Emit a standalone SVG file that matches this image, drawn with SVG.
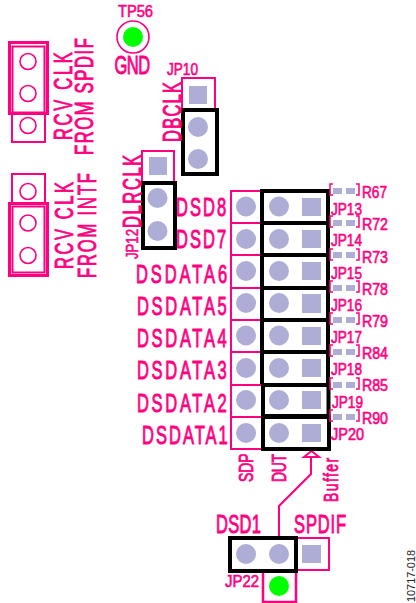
<svg xmlns="http://www.w3.org/2000/svg" width="416" height="603" viewBox="0 0 416 603">
<style>
text{font-family:"Liberation Sans",Arial,sans-serif;fill:#ff0080;stroke:#ff0080;stroke-width:.5}
.l{font-size:25px;stroke-width:.9}.m{font-size:20px;stroke-width:.8}.s{font-size:16px;stroke-width:.6}
.b{fill:#fff;stroke:#ff0080;stroke-width:2}
.t{fill:none;stroke:#ff0080;stroke-width:2}
.j{fill:none;stroke:#000;stroke-width:4}
.o{fill:none;stroke:#ff0080;stroke-width:1.6}
.p{fill:#adadd6}
.g{fill:#0f0}
.r{fill:none;stroke:#ff0080;stroke-width:1.5}
</style>
<g id="connectors">
<path class="t" d="M279 537V506L311 474V456"/>
<path class="t" d="M311.500 451L304 457H319Z"/>
</g>
<g id="tp56"><circle cx="133" cy="37" r="16" class="o"/><circle cx="133" cy="37" r="10" class="g"/>
<text class="s" x="118" y="17" textLength="35" lengthAdjust="spacingAndGlyphs">TP56</text>
<text class="l" transform="translate(114.500 73.500) scale(.66 1)" textLength="54" lengthAdjust="spacing">GND</text></g>
<g id="rcv-spdif">
<rect class="b" x="12" y="114" width="33" height="28"/>
<rect x="9.500" y="42.500" width="38" height="71" fill="none" stroke="#ff0080" stroke-width="3"/>
<rect class="t" x="12.500" y="46.500" width="32" height="66" stroke-width="1.500"/>
<circle class="o" cx="28" cy="61.500" r="8"/><circle class="o" cx="28" cy="93.500" r="8"/><circle class="o" cx="28" cy="125.500" r="8"/>
<text class="l" transform="translate(71.500 140) rotate(-90) scale(.66 1)" textLength="133" lengthAdjust="spacing">RCV CLK</text>
<text class="l" transform="translate(92.500 155) rotate(-90) scale(.66 1)" textLength="177" lengthAdjust="spacing">FROM SPDIF</text>
</g>
<g id="rcv-intf">
<rect class="b" x="12" y="174" width="33" height="29"/>
<rect x="9.500" y="203.500" width="38" height="72" fill="none" stroke="#ff0080" stroke-width="3"/>
<rect class="t" x="12.500" y="206.500" width="32" height="66" stroke-width="1.500"/>
<circle class="o" cx="28" cy="191.500" r="8"/><circle class="o" cx="28" cy="223" r="8"/><circle class="o" cx="28" cy="255.500" r="8"/>
<text class="l" transform="translate(72.500 269) rotate(-90) scale(.66 1)" textLength="132" lengthAdjust="spacing">RCV CLK</text>
<text class="l" transform="translate(95.500 278) rotate(-90) scale(.66 1)" textLength="159" lengthAdjust="spacing">FROM INTF</text>
</g>
<g id="jp10">
<rect class="b" x="182" y="78" width="33" height="32"/>
<rect class="p" x="189" y="86" width="18" height="18"/>
<rect class="j" x="183" y="110" width="34" height="64"/>
<circle class="p" cx="198" cy="127" r="10"/><circle class="p" cx="198" cy="159" r="10"/>
<text class="s" x="167" y="75" textLength="31" lengthAdjust="spacingAndGlyphs">JP10</text>
<text class="l" transform="translate(180.500 142) rotate(-90) scale(.66 1)" textLength="91" lengthAdjust="spacing">DBCLK</text>
</g>
<g id="jp12">
<rect class="b" x="142" y="151" width="32" height="32"/>
<rect class="p" x="149" y="157" width="18" height="18"/>
<rect class="j" x="143" y="183" width="32" height="65"/>
<circle class="p" cx="157.500" cy="198" r="10"/><circle class="p" cx="157.500" cy="231" r="10"/>
<text class="l" transform="translate(140.500 228) rotate(-90) scale(.66 1)" textLength="111" lengthAdjust="spacing">DLRCLK</text>
<text class="s" transform="translate(138 259) rotate(-90)" textLength="30" lengthAdjust="spacingAndGlyphs">JP12</text>
</g>
<g id="jp13"><rect class="b" x="231" y="191" width="31" height="32"/><rect class="j" x="262" y="191" width="66" height="32"/><circle class="p" cx="246" cy="206.500" r="10"/><circle class="p" cx="279" cy="206.500" r="10"/><rect class="p" x="302" y="198" width="19" height="18"/>
<text class="l" transform="translate(176 216) scale(.66 1)" textLength="76" lengthAdjust="spacing">DSD8</text><text class="s" x="331" y="215" textLength="31" lengthAdjust="spacingAndGlyphs">JP13</text></g>
<g id="jp14"><rect class="b" x="231" y="223" width="31" height="32"/><rect class="j" x="262" y="223" width="66" height="32"/><circle class="p" cx="246" cy="239" r="10"/><circle class="p" cx="279" cy="239" r="10"/><rect class="p" x="302" y="230" width="19" height="18"/>
<text class="l" transform="translate(176 248) scale(.66 1)" textLength="76" lengthAdjust="spacing">DSD7</text><text class="s" x="331" y="246" textLength="31" lengthAdjust="spacingAndGlyphs">JP14</text></g>
<g id="jp15"><rect class="b" x="231" y="255" width="31" height="33"/><rect class="j" x="262" y="255" width="66" height="33"/><circle class="p" cx="246" cy="271" r="10"/><circle class="p" cx="279" cy="271" r="10"/><rect class="p" x="302" y="262" width="19" height="18"/>
<text class="l" transform="translate(136 283) scale(.66 1)" textLength="138" lengthAdjust="spacing">DSDATA6</text><text class="s" x="331" y="279" textLength="31" lengthAdjust="spacingAndGlyphs">JP15</text></g>
<g id="jp16"><rect class="b" x="231" y="288" width="31" height="32"/><rect class="j" x="262" y="288" width="66" height="32"/><circle class="p" cx="246" cy="303" r="10"/><circle class="p" cx="279" cy="303" r="10"/><rect class="p" x="302" y="294" width="19" height="19"/>
<text class="l" transform="translate(137 315) scale(.66 1)" textLength="136" lengthAdjust="spacing">DSDATA5</text><text class="s" x="331" y="311" textLength="31" lengthAdjust="spacingAndGlyphs">JP16</text></g>
<g id="jp17"><rect class="b" x="231" y="320" width="31" height="32"/><rect class="j" x="262" y="320" width="66" height="32"/><circle class="p" cx="246" cy="335.500" r="10"/><circle class="p" cx="279" cy="335.500" r="10"/><rect class="p" x="302" y="327" width="19" height="18"/>
<text class="l" transform="translate(137 347) scale(.66 1)" textLength="136" lengthAdjust="spacing">DSDATA4</text><text class="s" x="331" y="343" textLength="31" lengthAdjust="spacingAndGlyphs">JP17</text></g>
<g id="jp18"><rect class="b" x="231" y="352" width="31" height="33"/><rect class="j" x="262" y="352" width="66" height="33"/><circle class="p" cx="246" cy="368" r="10"/><circle class="p" cx="279" cy="368" r="10"/><rect class="p" x="302" y="359" width="19" height="18"/>
<text class="l" transform="translate(137 379) scale(.66 1)" textLength="136" lengthAdjust="spacing">DSDATA3</text><text class="s" x="331" y="375" textLength="31" lengthAdjust="spacingAndGlyphs">JP18</text></g>
<g id="jp19"><rect class="b" x="231" y="385" width="32" height="32"/><rect class="j" x="263" y="385" width="65.500" height="31"/><circle class="p" cx="246" cy="400" r="10"/><circle class="p" cx="279" cy="400" r="10"/><rect class="p" x="302" y="391" width="19" height="18"/>
<text class="l" transform="translate(137 412) scale(.66 1)" textLength="136" lengthAdjust="spacing">DSDATA2</text><text class="s" x="332" y="408" textLength="31" lengthAdjust="spacingAndGlyphs">JP19</text></g>
<g id="jp20"><rect class="b" x="231" y="417" width="32" height="32"/><rect class="j" x="263" y="417" width="66" height="32"/><circle class="p" cx="246" cy="433" r="10"/><circle class="p" cx="279" cy="433" r="10"/><rect class="p" x="302" y="424" width="19" height="18"/>
<text class="l" transform="translate(142 444) scale(.66 1)" textLength="130" lengthAdjust="spacing">DSDATA1</text><text class="s" x="331" y="440" textLength="33" lengthAdjust="spacingAndGlyphs">JP20</text></g>
<g id="resistors">
<g id="r67"><path class="r" d="M333 184H330V195H333M356 184H359V195H356"/><rect class="p" x="333" y="188" width="9" height="6"/><rect class="p" x="346" y="188" width="9" height="6"/><text class="s" x="362" y="198" textLength="25" lengthAdjust="spacingAndGlyphs">R67</text></g>
<g id="r72"><path class="r" d="M333 216H330V227H333M356 216H359V227H356"/><rect class="p" x="333" y="220" width="9" height="6"/><rect class="p" x="346" y="220" width="9" height="6"/><text class="s" x="362" y="230" textLength="26" lengthAdjust="spacingAndGlyphs">R72</text></g>
<g id="r73"><path class="r" d="M333 249H330V260H333M356 249H359V260H356"/><rect class="p" x="333" y="252" width="9" height="6"/><rect class="p" x="346" y="252" width="9" height="6"/><text class="s" x="362" y="263" textLength="26" lengthAdjust="spacingAndGlyphs">R73</text></g>
<g id="r78"><path class="r" d="M333 281H330V292H333M356 281H359V292H356"/><rect class="p" x="333" y="285" width="9" height="6"/><rect class="p" x="346" y="285" width="9" height="6"/><text class="s" x="362" y="295" textLength="26" lengthAdjust="spacingAndGlyphs">R78</text></g>
<g id="r79"><path class="r" d="M333 313H330V324H333M356 313H359V324H356"/><rect class="p" x="333" y="317" width="9" height="6"/><rect class="p" x="346" y="317" width="9" height="6"/><text class="s" x="362" y="327" textLength="26" lengthAdjust="spacingAndGlyphs">R79</text></g>
<g id="r84"><path class="r" d="M333 345H330V356H333M356 345H359V356H356"/><rect class="p" x="333" y="349" width="9" height="6"/><rect class="p" x="346" y="349" width="9" height="6"/><text class="s" x="362" y="359" textLength="26" lengthAdjust="spacingAndGlyphs">R84</text></g>
<g id="r85"><path class="r" d="M333 378H330V389H333M356 378H359V389H356"/><rect class="p" x="333" y="382" width="9" height="6"/><rect class="p" x="346" y="382" width="9" height="6"/><text class="s" x="362" y="391" textLength="26" lengthAdjust="spacingAndGlyphs">R85</text></g>
<g id="r90"><path class="r" d="M333 410H330V421H333M356 410H359V421H356"/><rect class="p" x="333" y="414" width="9" height="6"/><rect class="p" x="346" y="414" width="9" height="6"/><text class="s" x="362" y="424" textLength="26" lengthAdjust="spacingAndGlyphs">R90</text></g>
</g>
<g id="side-labels">
<text class="m" transform="translate(253 482) rotate(-90) scale(.7 1)" textLength="41" lengthAdjust="spacing">SDP</text>
<text class="m" transform="translate(286 482) rotate(-90) scale(.7 1)" textLength="40" lengthAdjust="spacing">DUT</text>
<text class="m" transform="translate(338 502) rotate(-90) scale(.7 1)" textLength="63" lengthAdjust="spacing">Buffer</text>
</g>
<g id="jp22">
<rect class="b" x="296" y="538" width="33" height="32"/>
<rect class="p" x="302" y="545" width="19" height="18"/>
<rect x="263" y="571" width="33" height="31" fill="#fff" stroke="#ff0080" stroke-width="2.500"/>
<circle class="g" cx="279" cy="586" r="10"/>
<rect class="j" x="230" y="538" width="66" height="33"/>
<circle class="p" cx="246" cy="554" r="10"/><circle class="p" cx="279" cy="554" r="10"/>
<text class="l" transform="translate(216 533) scale(.66 1)" textLength="68" lengthAdjust="spacing">DSD1</text>
<text class="l" transform="translate(294 533) scale(.66 1)" textLength="79" lengthAdjust="spacing">SPDIF</text>
<text class="s" x="225" y="587" textLength="34" lengthAdjust="spacingAndGlyphs">JP22</text>
</g>
<text transform="translate(415 602) rotate(-90)" textLength="52" lengthAdjust="spacingAndGlyphs" style="font-size:11px;fill:#222;stroke:none">10717-018</text>
</svg>
